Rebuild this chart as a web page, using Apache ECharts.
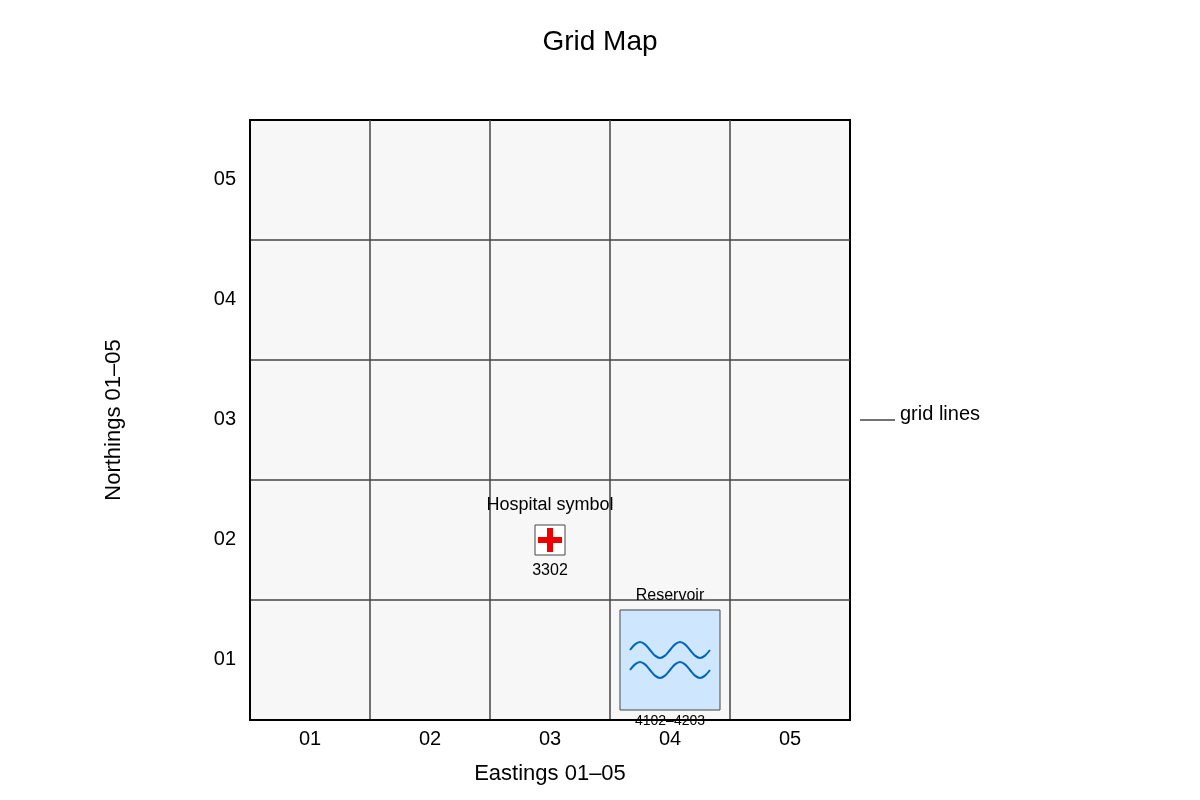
<!DOCTYPE html>
<html><head><meta charset="utf-8">
<style>html,body{margin:0;padding:0;background:#fff}#c{width:1200px;height:800px}</style>
<script src="https://cdn.jsdelivr.net/npm/echarts@6/dist/echarts.min.js"></script>
</head><body><div id="c"></div>
<script>
const eastings = ['01','02','03','04','05'];
const northings = ['01','02','03','04','05'];
const hospital = [2.5, 1.5];
const reservoir = [3.0833, 0.0833, 3.9167, 0.9167];
const waveEast = [3.1667,3.2083,3.25,3.2917,3.3333,3.375,3.4167,3.4583,3.5,3.5417,3.5833,3.625,3.6667,3.7083,3.75,3.7917,3.8333];
const waveUpper = [0.5833,0.6304,0.65,0.6304,0.5833,0.5362,0.5167,0.5362,0.5833,0.6304,0.65,0.6304,0.5833,0.5362,0.5167,0.5362,0.5833];
const waveLower = [0.4167,0.4638,0.4833,0.4638,0.4167,0.3696,0.35,0.3696,0.4167,0.4638,0.4833,0.4638,0.4167,0.3696,0.35,0.3696,0.4167];
const FONT = '"Liberation Sans", Arial, sans-serif';
const GRID_LINE = '#444444';
const TEXT = '#000000';

function wave(vals){
  return {type:'line', xAxisIndex:1, yAxisIndex:1, smooth:0.3, smoothMonotone:'none', symbol:'none', silent:true, z:5,
    lineStyle:{color:'#0066bb', width:2},
    data: waveEast.map((e,i)=>[e,vals[i]])};
}
function hospitalItem(params, api){
  const c = api.coord([api.value(0), api.value(1)]);
  const x=c[0], y=c[1];
  return {type:'group', children:[
    {type:'rect', shape:{x:x-15,y:y-15,width:30,height:30}, style:{fill:'#fff',stroke:GRID_LINE,lineWidth:1}},
    {type:'rect', shape:{x:x-12,y:y-3,width:24,height:6}, style:{fill:'#ee0000'}},
    {type:'rect', shape:{x:x-3,y:y-12,width:6,height:24}, style:{fill:'#ee0000'}},
    {type:'text', style:{x:x,y:y-35,text:'Hospital symbol',fill:TEXT,font:'18px '+FONT,align:'center',verticalAlign:'middle'}},
    {type:'text', style:{x:x,y:y+31,text:'3302',fill:TEXT,font:'16px '+FONT,align:'center',verticalAlign:'middle'}}
  ]};
}
function reservoirItem(params, api){
  const a = api.coord([api.value(0), api.value(3)]);
  const b = api.coord([api.value(2), api.value(1)]);
  const cx=(a[0]+b[0])/2;
  return {type:'group', children:[
    {type:'rect', shape:{x:a[0],y:a[1],width:b[0]-a[0],height:b[1]-a[1]}, style:{fill:'#cfe6ff',stroke:GRID_LINE,lineWidth:1}},
    {type:'text', style:{x:cx,y:a[1]-14,text:'Reservoir',fill:TEXT,font:'16px '+FONT,align:'center',verticalAlign:'middle'}},
    {type:'text', style:{x:cx,y:b[1]+11,text:'4102–4203',fill:TEXT,font:'14px '+FONT,align:'center',verticalAlign:'middle'}}
  ]};
}
const chart = echarts.init(document.getElementById('c'), null, {renderer:'canvas'});
chart.setOption({
  animation:false,
  backgroundColor:'#ffffff',
  title:{text:'Grid Map', left:'center', top:23, textStyle:{fontFamily:FONT,fontSize:28,fontWeight:'normal',color:TEXT}},
  grid:{left:250, top:120, width:600, height:600, show:true, backgroundColor:'#f7f7f7', borderColor:'#000', borderWidth:2},
  xAxis:[
    {type:'category', data:eastings, boundaryGap:true, position:'bottom',
     name:'Eastings 01–05', nameLocation:'middle', nameGap:43, nameTextStyle:{fontFamily:FONT,fontSize:22,color:TEXT},
     axisTick:{show:false}, axisLine:{show:true,lineStyle:{color:'#000',width:2}},
     axisLabel:{fontFamily:FONT,fontSize:20,color:TEXT,margin:9},
     splitLine:{show:true,showMinLine:false,showMaxLine:false,lineStyle:{color:GRID_LINE,width:1.5}}},
    {type:'value', min:0, max:5, interval:1, show:false}
  ],
  yAxis:[
    {type:'category', data:northings, boundaryGap:true, position:'left',
     name:'Northings 01–05', nameLocation:'middle', nameGap:125, nameTextStyle:{fontFamily:FONT,fontSize:22,color:TEXT},
     axisTick:{show:false}, axisLine:{show:true,lineStyle:{color:'#000',width:2}},
     axisLabel:{margin:14,formatter:'{n|{value}}',rich:{n:{fontFamily:FONT,fontSize:20,color:TEXT,padding:[0,0,2,0]}}},
     splitLine:{show:true,showMinLine:false,showMaxLine:false,lineStyle:{color:GRID_LINE,width:1.5}}},
    {type:'value', min:0, max:5, interval:1, show:false}
  ],
  graphic:[
    {type:'line', shape:{x1:860,y1:420,x2:895,y2:420}, style:{stroke:GRID_LINE,lineWidth:1.5}},
    {type:'text', style:{x:900,y:414,text:'grid lines',fill:TEXT,font:'20px '+FONT,textAlign:'left',textVerticalAlign:'middle'}}
  ],
  series:[
    {type:'custom', xAxisIndex:1, yAxisIndex:1, silent:true, z:3, clip:false, renderItem:reservoirItem, data:[reservoir]},
    {type:'custom', xAxisIndex:1, yAxisIndex:1, silent:true, z:3, clip:false, renderItem:hospitalItem, data:[hospital]},
    wave(waveUpper),
    wave(waveLower)
  ]
});
</script></body></html>
